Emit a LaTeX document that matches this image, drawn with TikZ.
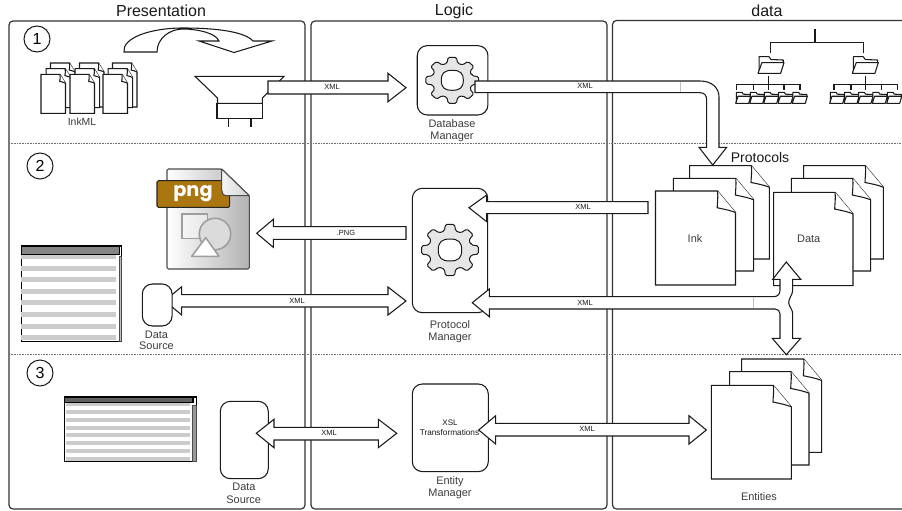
\documentclass[tikz,border=0pt]{standalone}
\usepackage{fontspec}
\setmainfont{Liberation Sans}
\newfontfamily\pngfont{Poppins}
\definecolor{ink}{HTML}{1A1A1A}
\definecolor{panelc}{HTML}{333333}
\definecolor{pngbrown}{HTML}{A9760F}
\definecolor{geargray}{HTML}{E6E6E6}
\definecolor{stripe}{HTML}{CCCCCC}
\tikzset{
  panel/.style={draw=panelc,line width=.9pt,rounded corners=3pt},
  divider/.style={draw=black!55,line width=.7pt,dash pattern=on .6pt off .6pt},
  block/.style={draw=ink,fill=white,line width=.8pt,line join=miter},
  sheet/.style={draw=ink,fill=white,line width=.8pt},
  rbox/.style={draw=ink,fill=white,line width=.8pt,rounded corners=7.5pt},
  gearbody/.style={draw=ink,fill=geargray,line width=.75pt},
  numc/.style={draw=ink,circle,minimum size=19.5pt,inner sep=0pt,line width=.75pt,font=\fontsize{12}{12}\selectfont},
  title/.style={font=\fontsize{12}{12}\selectfont,text=ink,inner sep=0pt},
  lab/.style={font=\fontsize{8.2}{8.2}\selectfont,text=ink!85,inner sep=0pt},
  tiny/.style={font=\fontsize{5.6}{5.6}\selectfont,text=ink,inner sep=0pt},
  treeline/.style={draw=ink,line width=.8pt},
  seam/.style={draw=black!25,line width=.6pt},
}
% sheet with a dog-eared corner: x y w h foldw foldh
\newcommand{\sheetat}[6]{%
  \draw[sheet] (#1,#2) -- ({#1+#3-#5},#2) -- ({#1+#3},{#2+#6}) -- ({#1+#3},{#2+#4}) -- (#1,{#2+#4}) -- cycle;
  \draw[sheet,fill=white] ({#1+#3-#5},#2) .. controls ({#1+#3-#5+.8},{#2+.35*#6}) and ({#1+#3-#5-.3},{#2+.55*#6}) .. ({#1+#3-#5-.3},{#2+.78*#6}) .. controls ({#1+#3-.6*#5},{#2+.85*#6}) and ({#1+#3-.3*#5},{#2+.9*#6}) .. ({#1+#3},{#2+#6});
}
% folder: x y w h
\newcommand{\folderat}[4]{%
  \draw[sheet,line join=round] ({#1+.04*#3},{#2+#4}) -- ({#1+.04*#3},#2) -- ({#1+.42*#3},#2) -- ({#1+.5*#3},{#2+.17*#4}) -- ({#1+.97*#3},{#2+.2*#4}) -- ({#1+.97*#3},{#2+.36*#4});
  \draw[sheet,line join=round] ({#1+.15*#3},{#2+.36*#4}) -- ({#1+#3},{#2+.36*#4}) -- ({#1+.87*#3},{#2+#4}) -- (#1,{#2+#4}) -- cycle;
}
% gear: cx cy rx ry hrx hry
\newcommand{\gearat}[6]{%
  \begin{scope}[shift={(#1,#2)},x=#3*.75pt,y=-#4*.75pt]
    \draw[gearbody,rounded corners=1.1pt] (-15:.76)
      \foreach \a in {0,45,...,315}{ -- ({\a-15}:.76) -- ({\a-9}:1) -- ({\a+9}:1) -- ({\a+15}:.76) } -- cycle;
    \draw[draw=ink,fill=white,line width=.75pt]
      ({-#5/#3},0) .. controls ({-#5/#3},{-.72*#6/#4}) and ({-.72*#5/#3},{-#6/#4}) .. (0,{-#6/#4})
      .. controls ({.72*#5/#3},{-#6/#4}) and ({#5/#3},{-.72*#6/#4}) .. ({#5/#3},0)
      .. controls ({#5/#3},{.72*#6/#4}) and ({.72*#5/#3},{#6/#4}) .. (0,{#6/#4})
      .. controls ({-.72*#5/#3},{#6/#4}) and ({-#5/#3},{.72*#6/#4}) .. ({-#5/#3},0) -- cycle;
  \end{scope}
}
\begin{document}
\begin{tikzpicture}[x=.75pt,y=-.75pt]
\useasboundingbox (0,0) rectangle (902,510);
\fill[white] (0,0) rectangle (902,510);

% panels
\draw[panel] (9,21) rectangle (305,509);
\draw[panel] (311,21) rectangle (607,509);
\begin{scope}
\clip (0,0) rectangle (902,510);
\draw[panel] (925,20.5) -- (612.5,20.5) -- (612.5,509) -- (925,509);
\end{scope}
\draw[divider] (9,143.8) -- (902,143.8);
\draw[divider] (9,354.8) -- (902,354.8);
\node[title] (tp) at (161,11) {Presentation};
\node[title] (tl) at (454,11) {Logic};
\node[title] (td) at (767,11) {data};
\node[numc] (n1) at (37,39) {1};
\node[numc] (n2) at (40,166) {2};
\node[numc] (n3) at (40,373) {3};

% curved arrow
\draw[block] (124,52) .. controls (122,38) and (150,28) .. (183,28)
  .. controls (218,28) and (245,32) .. (253,41) -- (272,41) -- (234,52.5) -- (199,41) -- (219,41)
  .. controls (216,33) and (197,29) .. (183,29) .. controls (170,29) and (157,38) .. (157,52) -- cycle;

% InkML stacks
\foreach \sx in {41,70,103}{
  \sheetat{\sx+9.5}{63}{24.5}{44}{5.5}{9}
  \sheetat{\sx+5.2}{68.6}{24.5}{39}{5.5}{9}
  \sheetat{\sx}{74.3}{24.5}{39}{5.5}{9}
}
\node[lab,font=\fontsize{7.8}{7.8}\selectfont] (inkml) at (82,122) {InkML};

% funnel
\draw[sheet] (195,76.3) -- (284,76.3) -- (262.3,98) -- (262.3,103.3) -- (217.5,103.3) -- (217.5,98) -- cycle;
\draw[sheet] (217,103.3) rectangle (262.3,118.3);
\draw[treeline] (228.5,118.3) -- (228.5,127);
\draw[treeline] (251,118.3) -- (251,127);

% gears / boxes
\node[rbox,minimum width=53pt,minimum height=52pt] (dbm) at (452.6,80.3) {};
\gearat{452.3}{80.3}{26.7}{23.3}{11}{10}
\node[lab] (dbm1) at (452,123.5) {Database};
\node[lab] (dbm2) at (452,136.5) {Manager};

\node[rbox,minimum width=56.5pt,minimum height=93.3pt] (pm) at (450,250.5) {};
\gearat{450}{250}{28.7}{26}{11.7}{11}
\node[lab] (pm1) at (450,325) {Protocol};
\node[lab] (pm2) at (450,338) {Manager};

\node[rbox,minimum width=57pt,minimum height=65.7pt] (em) at (450.3,427.8) {};
\node[tiny,font=\fontsize{6}{6}\selectfont] (xsl1) at (450,423) {XSL};
\node[tiny,font=\fontsize{6.2}{6.2}\selectfont] (xsl2) at (449.5,433) {Transformations};
\node[lab] (em1) at (450,481.7) {Entity};
\node[lab] (em2) at (450,493.5) {Manager};

% Funnel -> Database Manager
\draw[block] (268,81) -- (388,81) -- (388,73.3) -- (406,87.7) -- (388,101.7) -- (388,94) -- (268,94) -- cycle;
\node[tiny] (x1) at (332,87) {XML};

% PNG icon
\shade[left color=white,right color=black!30,draw=black!70,line width=.8pt,rounded corners=1pt]
  (167,169) -- (221.7,169) -- (249.3,195.7) -- (249.3,269) -- (167,269) -- cycle;
\draw[draw=black!38,fill=white,fill opacity=.35,line width=1.2pt] (181.7,213.7) rectangle (207.3,238.3);
\draw[draw=black!38,fill=black!14,line width=1.2pt] (215,234) circle [radius=11.8pt];
\draw[draw=black!38,fill=white,line width=1.2pt,line join=round] (205.7,237.7) -- (219,256.3) -- (191.7,256.3) -- cycle;
\draw[draw=black!85,fill=pngbrown,line width=.8pt,rounded corners=1pt] (157,180.7) rectangle (229.7,207.3);
\node[inner sep=0pt,text=white,font=\pngfont\bfseries\fontsize{14.5}{14.5}\selectfont] (pngt) at (193,194) {png};
\shade[left color=black!4,right color=black!18,draw=black!70,line width=.8pt,line join=round]
  (221.7,169) -- (249.3,195.7) -- (227,195.7) .. controls (223,195.7) and (221.7,193) .. (221.7,190) -- cycle;

% PNG arrow
\draw[block] (406,226.7) -- (273.3,226.7) -- (273.3,219.3) -- (256.7,233.3) -- (273.3,247.3) -- (273.3,239.3) -- (406,239.3) -- cycle;
\node[tiny] (x2) at (346,232.5) {.PNG};

% table 2
\fill[white] (21.3,246) rectangle (121.7,341.7);
\draw[black,line width=.8pt] (21.3,246) -- (21.3,341.7) -- (121.7,341.7) -- (121.7,246) -- cycle;
\foreach \ya/\yb in {254.7/259,266/271,276.7/282,289/294,299.7/305,312/317,323.7/329,335/340.3}{
  \fill[stripe] (20.8,\ya) rectangle (116,\yb);
}
\draw[draw=black,fill=black!48,line width=.8pt] (21.3,246) rectangle (119.5,254.7);
\draw[draw=black!70,fill=black!25,line width=.6pt] (119.3,256.7) rectangle (121.7,341.7);

% table 3
\fill[white] (64.3,397) rectangle (196.3,461.7);
\draw[black,line width=.8pt] (64.3,397) rectangle (196.3,461.7);
\foreach \ya/\yb in {403/406,410.3/414,418/421.7,426/430,433.3/437.3,441/445,448.7/453,456.7/460.7}{
  \fill[stripe] (65.5,\ya) rectangle (190,\yb);
}
\draw[draw=black,fill=black!62,line width=.8pt] (64.3,397) rectangle (193,402.7);
\draw[draw=black!70,fill=black!40,line width=.6pt] (192.7,405) rectangle (196.3,461.7);

% documents
\sheetat{689.7}{165.7}{79.6}{93.3}{18}{21.5}
\sheetat{673.3}{178.3}{80.4}{92.7}{18}{21.5}
\sheetat{655.5}{191}{80}{94}{18}{21.5}
\node[lab] (ink) at (695,239) {Ink};
\sheetat{803.7}{165.7}{79.6}{93.3}{18}{21.5}
\sheetat{791.3}{178.3}{79.4}{92.7}{18}{21.5}
\sheetat{773.7}{192.3}{79.3}{93.4}{18}{21.5}
\node[lab] (data) at (808.7,239) {Data};
\sheetat{741.7}{359}{80}{93.3}{18}{21.5}
\sheetat{729.7}{371.7}{79.3}{93.3}{18}{21.5}
\sheetat{711.3}{385.3}{80}{93.7}{18}{21.5}
\node[lab] (ent) at (759,497) {Entities};
\node[title,font=\fontsize{10.5}{10.5}\selectfont] (prot) at (760,157) {Protocols};

% Database Manager -> Protocols (bent)
\draw[block] (475,81) -- (700,81) .. controls (712,81) and (719,88) .. (719,97) -- (719,147.3) -- (726.7,147.3) -- (712.7,165) -- (699,147.3) -- (706.7,147.3) -- (706.7,100) .. controls (706.7,95) and (704,92.7) .. (700,92.7) -- (475,92.7) -- cycle;
\draw[seam] (680,81.6) -- (680,92.2);
\node[tiny] (x3) at (585,86) {XML};

% Ink -> Protocol manager
\draw[block] (648,201.7) -- (486.7,201.7) -- (486.7,195) -- (469,207.7) -- (486.7,221.7) -- (486.7,213.7) -- (648,213.7) -- cycle;
\node[tiny] (x4) at (583,207) {XML};

% three-way arrow
\draw[block] (472.3,302.7) -- (489.3,289) -- (489.3,296.7) -- (773,296.7)
  .. controls (778,296.7) and (780,294) .. (780,290) -- (780,279.3) -- (772.7,279.3) -- (786.3,262) -- (800.7,279.3) -- (792.7,279.3) -- (792.7,290)
  .. controls (792.7,295) and (788.5,298) .. (788.7,303) .. controls (789,307) and (792.7,309) .. (792.7,314)
  -- (792.7,338.3) -- (800.7,338.3) -- (786.3,354.7) -- (772.3,338.3) -- (780,338.3) -- (780,314)
  .. controls (780,311) and (778,309) .. (775,309) -- (489.3,309) -- (489.3,316.7) -- cycle;
\draw[seam] (753,297.3) -- (753,308.4);
\node[tiny] (x5) at (585,303) {XML};

% XML arrow row 2
\draw[block] (164.7,300.8) -- (181.7,286.7) -- (181.7,294.7) -- (388,294.7) -- (388,287) -- (406,301) -- (388,315) -- (388,307) -- (181.7,307) -- (181.7,315) -- cycle;
\node[tiny] (x6) at (297,300.5) {XML};
\node[rbox,minimum width=22.3pt,minimum height=31.5pt] (ds2) at (157.2,305) {};
\node[lab] (ds2a) at (156.5,334.3) {Data};
\node[lab] (ds2b) at (156.5,346) {Source};

% row 3
\node[rbox,minimum width=36pt,minimum height=58pt] (ds3) at (244.3,440) {};
\node[lab] (ds3a) at (244,486.3) {Data};
\node[lab] (ds3b) at (243.7,499.3) {Source};
\draw[block] (256.3,433.3) -- (274,419.3) -- (274,427.3) -- (378.3,427.3) -- (378.3,419.3) -- (396.7,433.3) -- (378.3,447.7) -- (378.3,440) -- (274,440) -- (274,447.7) -- cycle;
\node[tiny] (x7) at (329,433) {XML};

\draw[block] (478.7,430) -- (495.7,415.7) -- (495.7,423.3) -- (689,423.3) -- (689,415.7) -- (706.3,430) -- (689,444) -- (689,436) -- (495.7,436) -- (495.7,444) -- cycle;
\node[tiny] (x8) at (587,429) {XML};

% folder tree
\draw[treeline] (815,29.3) -- (815,42.3);
\draw[treeline] (770.7,52.7) -- (770.7,42.3) -- (863.3,42.3) -- (863.3,52.7);
\folderat{758}{56.7}{26}{16.6}
\folderat{852.3}{56.7}{26}{16.6}
\draw[treeline] (768.3,76) -- (768.3,90);
\draw[treeline] (736.7,90) -- (736.7,84.7) -- (800,84.7) -- (800,90);
\foreach \t in {753.3,784}{\draw[treeline] (\t,84.7) -- (\t,90);}
\foreach \f in {735.7,749.7,763.7,778,792.3}{\folderat{\f}{92.3}{15}{11}}
\draw[treeline] (865.7,76) -- (865.7,90);
\draw[treeline] (834,90) -- (834,84.7) -- (897.3,84.7) -- (897.3,90);
\foreach \t in {851,881.7}{\draw[treeline] (\t,84.7) -- (\t,90);}
\foreach \f in {829.7,844,858,872.3,886.7}{\folderat{\f}{92.3}{15}{11}}
\end{tikzpicture}
\end{document}
